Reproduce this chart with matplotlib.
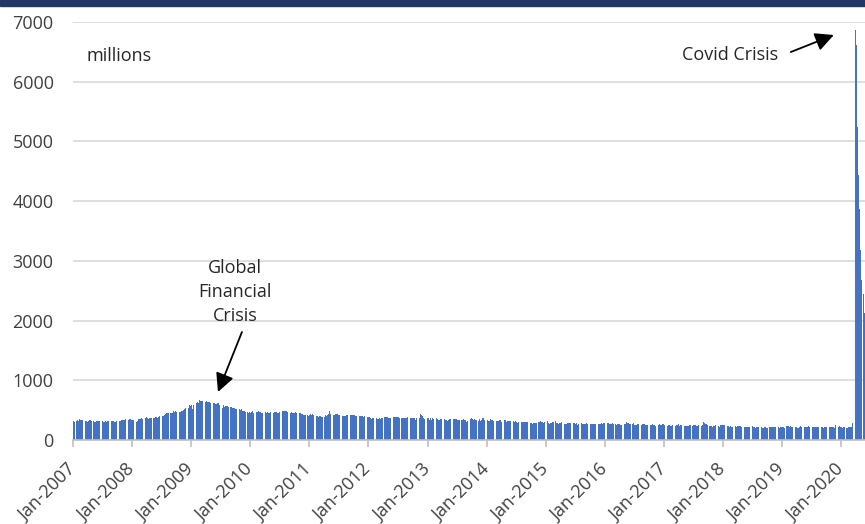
import matplotlib
matplotlib.use("Agg")
import matplotlib.pyplot as plt
import matplotlib.dates as mdates
import matplotlib.transforms as mtransforms
import numpy as np
import pandas as pd
from matplotlib.patches import Rectangle

plt.rcParams['font.family'] = ['Open Sans', 'DejaVu Sans']

# Weekly initial unemployment claims (thousands), week ending Saturday
claims_2007 = [321, 297, 312, 328, 310, 357, 331, 338, 327, 318, 316, 310, 306,
               323, 339, 327, 315, 310, 309, 302, 312, 311, 312, 317, 322, 310,
               304, 302, 310, 308, 319, 311, 321, 316, 318, 315, 305, 303, 314,
               315, 325, 325, 335, 330, 327, 336, 346, 338, 336, 347, 349, 339]
claims_2008 = [341, 330, 305, 304, 320, 350, 355, 357, 363, 353, 372, 365, 382,
               375, 355, 370, 365, 375, 362, 370, 382, 378, 372, 390, 397, 390,
               395, 401, 412, 442, 447, 445, 445, 448, 452, 455, 490, 464, 494,
               462, 470, 476, 475, 479, 489, 506, 515, 535, 532, 543, 582, 568]
claims_2009 = [589, 524, 582, 591, 626, 631, 627, 667, 654, 658, 649, 665, 643,
               661, 640, 631, 640, 623, 627, 625, 623, 608, 604, 620, 616, 584,
               558, 544, 584, 560, 570, 576, 570, 550, 549, 555, 539, 532, 531,
               521, 523, 515, 514, 505, 513, 483, 480, 488, 465, 468, 459, 470]
claims_2010 = [451, 470, 482, 453, 474, 473, 464, 479, 474, 464, 449, 456, 451,
               465, 459, 470, 448, 451, 472, 457, 451, 471, 462, 468, 454, 458,
               465, 446, 481, 487, 490, 485, 478, 471, 461, 459, 462, 456, 451,
               449, 461, 454, 456, 444, 446, 430, 428, 424, 420, 415, 425, 410]
claims_2011 = [411, 435, 416, 434, 413, 407, 402, 396, 384, 397, 394, 383, 393,
               390, 412, 404, 421, 432, 478, 440, 413, 422, 418, 429, 428, 428,
               422, 419, 415, 408, 403, 397, 410, 417, 417, 420, 413, 420, 427,
               417, 412, 402, 405, 408, 400, 404, 396, 403, 391, 394, 373, 381, 377]
claims_2012 = [378, 371, 355, 369, 371, 363, 361, 357, 359, 365, 355, 367, 364,
               385, 389, 380, 388, 374, 373, 376, 377, 384, 389, 391, 390, 389,
               386, 365, 369, 370, 363, 370, 372, 374, 378, 383, 373, 376, 372,
               372, 369, 341, 365, 383, 370, 439, 411, 396, 372, 344, 359, 372]
claims_2013 = [371, 335, 368, 341, 366, 348, 342, 362, 345, 339, 332, 357, 350,
               347, 358, 338, 329, 326, 342, 352, 350, 341, 346, 354, 347, 347,
               340, 333, 329, 333, 342, 344, 339, 331, 307, 315, 346, 358, 364,
               345, 335, 349, 335, 328, 325, 348, 326, 328, 362, 365, 341, 348]
claims_2014 = [331, 325, 326, 344, 341, 337, 322, 339, 325, 322, 325, 330, 329,
               307, 303, 332, 343, 309, 323, 321, 315, 316, 304, 310, 303, 313,
               300, 282, 302, 304, 306, 300, 309, 302, 298, 298, 297, 295, 293,
               283, 264, 287, 289, 282, 290, 297, 295, 313, 300, 297, 284, 298]
claims_2015 = [297, 314, 290, 268, 282, 289, 304, 301, 320, 291, 282, 273, 286,
               282, 294, 296, 263, 265, 275, 283, 283, 278, 277, 268, 284, 286,
               275, 280, 255, 268, 274, 281, 268, 273, 270, 273, 283, 269, 276,
               269, 260, 276, 260, 276, 272, 276, 266, 270, 272, 282, 276, 287]
claims_2016 = [277, 285, 278, 283, 269, 262, 262, 278, 268, 260, 256, 263, 266,
               268, 254, 248, 257, 260, 274, 294, 278, 278, 268, 268, 268, 277,
               258, 254, 253, 264, 268, 266, 255, 261, 264, 265, 259, 254, 258,
               249, 246, 249, 261, 258, 251, 235, 254, 248, 267, 258, 254, 274, 265]
claims_2017 = [247, 237, 234, 259, 246, 234, 239, 245, 244, 227, 245, 258, 261,
               235, 244, 257, 260, 238, 234, 237, 238, 233, 244, 249, 241, 247,
               246, 244, 234, 241, 245, 237, 234, 245, 298, 284, 260, 271, 259,
               230, 239, 234, 223, 239, 241, 247, 231, 240, 226, 246, 245, 251]
claims_2018 = [250, 256, 220, 233, 231, 222, 230, 222, 211, 226, 229, 215, 230,
               242, 233, 233, 210, 213, 222, 223, 224, 218, 221, 223, 227, 231,
               222, 218, 208, 213, 214, 211, 205, 211, 202, 206, 214, 215, 208,
               207, 210, 214, 219, 215, 214, 224, 225, 232, 220, 206, 215, 224]
claims_2019 = [220, 215, 202, 230, 236, 233, 219, 227, 221, 223, 232, 212, 211,
               197, 208, 219, 228, 218, 221, 222, 218, 222, 217, 227, 224, 221,
               220, 212, 215, 210, 221, 210, 221, 209, 212, 219, 206, 215, 213,
               221, 217, 215, 217, 220, 215, 220, 204, 252, 234, 222, 230, 222]
claims_2020 = [214, 207, 220, 215, 202, 206, 213, 211, 216, 217, 282, 3307, 6867,
               6615, 5237, 4442, 3867, 3176, 2687, 2446, 2126]

yearly = {
    2007: claims_2007, 2008: claims_2008, 2009: claims_2009, 2010: claims_2010,
    2011: claims_2011, 2012: claims_2012, 2013: claims_2013, 2014: claims_2014,
    2015: claims_2015, 2016: claims_2016, 2017: claims_2017, 2018: claims_2018,
    2019: claims_2019, 2020: claims_2020,
}

dates, values = [], []
for yr, vals in yearly.items():
    d = pd.date_range(f"{yr}-01-01", periods=len(vals), freq="W-SAT")
    dates.extend(d)
    values.extend(vals)
dates = pd.DatetimeIndex(dates)
values = np.array(values)

tick_years = list(range(2007, 2021))
tick_labels = [f"Jan-{y}" for y in tick_years]

W, H = 865, 524
fig = plt.figure(figsize=(W / 100, H / 100), dpi=100)
ax = fig.add_axes([73 / W, (H - 440) / H, (W - 73) / W, (440 - 22) / H])

# dark banner along the top edge
fig.patches.append(Rectangle((0, 1 - 6 / H), 1, 6 / H, transform=fig.transFigure,
                             color="#1f3864", zorder=10))

xnum = mdates.date2num(dates)
ax.bar(xnum, values, width=5.5, color="#4472C4", linewidth=0, zorder=2)

ax.set_ylim(0, 7000)
ax.set_yticks(range(0, 7001, 1000))
ax.set_xlim(mdates.date2num(pd.Timestamp("2007-01-01")),
            mdates.date2num(pd.Timestamp("2020-05-28")))
ticks = [mdates.date2num(pd.Timestamp(f"{y}-01-01")) for y in tick_years]
ax.set_xticks(ticks)
ax.set_xticklabels(tick_labels, rotation=45, ha="right", va="center",
                   rotation_mode="anchor")
shift = mtransforms.ScaledTranslation(4 / 100, 0, fig.dpi_scale_trans)
for lbl in ax.get_xticklabels():
    lbl.set_transform(lbl.get_transform() + shift)

ax.grid(axis="y", color="#d9d9d9", linewidth=1.2, zorder=0)
ax.set_axisbelow(True)
for s in ["top", "right", "left"]:
    ax.spines[s].set_visible(False)
ax.spines["bottom"].set_color("#bfbfbf")
ax.spines["bottom"].set_linewidth(1.2)
ax.tick_params(axis="y", length=0, labelsize=13, labelcolor="#404040", pad=14)
ax.tick_params(axis="x", length=5, width=1.2, color="#bfbfbf", labelsize=13,
               labelcolor="#404040", pad=14)

ax.text((86 - 73) / (W - 73), (440 - 56) / (440 - 22), "millions",
        transform=ax.transAxes, fontsize=13, color="#262626", va="center", ha="left")

def px_to_data(px, py):
    xd = mdates.date2num(pd.Timestamp("2007-01-01")) + (px - 73) / 59.1 * 365.25
    yd = (440 - py) / (418 / 7000)
    return xd, yd

tx, ty = px_to_data(235, 292)
ax.text(tx, ty, "Global\nFinancial\nCrisis", fontsize=13, color="#262626",
        ha="center", va="center", linespacing=1.45)
ax.annotate("", xy=px_to_data(218, 392), xytext=px_to_data(242, 332),
            arrowprops=dict(arrowstyle="-|>", color="black", lw=1.3,
                            mutation_scale=28, shrinkA=0, shrinkB=0))

tx, ty = px_to_data(730, 55)
ax.text(tx, ty, "Covid Crisis", fontsize=13, color="#262626",
        ha="center", va="center")
ax.annotate("", xy=px_to_data(834, 35), xytext=px_to_data(791, 52),
            arrowprops=dict(arrowstyle="-|>", color="black", lw=1.3,
                            mutation_scale=28, shrinkA=0, shrinkB=0))

fig.savefig("out.png", dpi=100)
